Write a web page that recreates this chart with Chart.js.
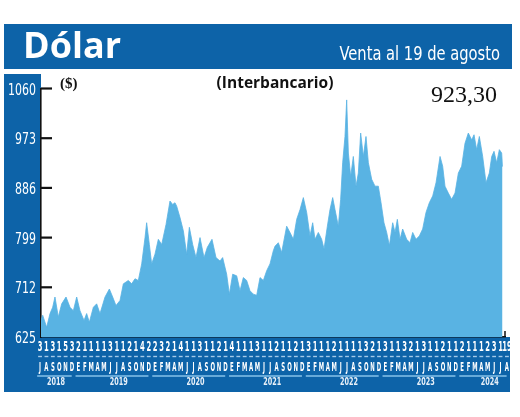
<!DOCTYPE html>
<html lang="es">
<head>
<meta charset="utf-8">
<title>Dólar</title>
<script src="https://cdn.jsdelivr.net/npm/chart.js@4.4.1/dist/chart.umd.min.js"></script>
<style>
  html, body { margin: 0; padding: 0; background: #fff; }
  #grafico { display: block; }
</style>
</head>
<body>
<canvas id="grafico" width="520" height="417"></canvas>
<script>
// Dólar interbancario, venta
// posición en meses contados desde el 1 de julio de 2018
const meses = [
    0.0, 0.27, 0.9, 1.44, 1.86, 2.23, 2.76, 3.3, 3.99, 4.63,
    5.16, 5.69, 6.22, 6.86, 7.28, 7.71, 8.35, 8.88, 9.41, 10.21,
    10.9, 11.43, 11.96, 12.6, 13.13, 13.93, 14.46, 14.99, 15.52, 16.06,
    16.59, 16.85, 17.28, 17.65, 18.18, 18.71, 19.25, 19.94, 20.57, 21.0,
    21.37, 21.64, 22.17, 22.7, 23.23, 23.66, 24.19, 24.72, 25.36, 26.0,
    26.53, 27.27, 27.91, 28.55, 28.97, 29.61, 30.04, 30.57, 31.21, 31.74,
    32.27, 32.8, 33.33, 33.86, 34.4, 34.93, 35.46, 35.99, 36.52, 37.05,
    37.32, 37.85, 38.38, 39.18, 39.71, 40.24, 40.78, 41.31, 41.84, 42.37,
    42.9, 43.33, 43.7, 44.23, 44.76, 45.14, 45.67, 46.09, 46.52, 46.89,
    47.42, 47.79, 48.11, 48.48, 48.75, 49.02, 49.39, 49.81, 50.24, 50.61,
    50.98, 51.41, 51.83, 52.21, 52.74, 53.27, 53.8, 54.23, 54.7, 55.13,
    55.56, 56.09, 56.46, 56.83, 57.26, 57.68, 58.32, 58.85, 59.28, 59.81,
    60.34, 60.87, 61.4, 61.93, 62.47, 63.0, 63.64, 64.06, 64.43, 64.96,
    65.49, 66.03, 66.56, 67.09, 67.62, 68.15, 68.69, 69.06, 69.48, 69.91,
    70.44, 70.97, 71.5, 71.88, 72.25, 72.67, 73.1, 73.47, 73.6
];
const ventas = [
    654, 663, 642, 666, 677, 695, 660, 683, 695, 677,
    671, 695, 671, 654, 666, 651, 677, 683, 666, 695,
    709, 695, 680, 689, 718, 724, 718, 727, 724, 753,
    799, 825, 787, 753, 770, 796, 787, 822, 863, 857,
    860, 854, 834, 811, 770, 817, 787, 764, 799, 764,
    782, 796, 764, 758, 764, 735, 700, 735, 732, 706,
    729, 724, 706, 700, 698, 729, 724, 741, 753, 776,
    784, 790, 773, 819, 808, 796, 831, 848, 869, 843,
    802, 825, 796, 808, 796, 779, 819, 848, 869, 848,
    819, 866, 930, 976, 1040, 947, 906, 941, 889, 912,
    982, 941, 976, 930, 901, 889, 889, 860, 825, 808,
    785, 825, 808, 831, 796, 814, 796, 790, 808, 796,
    802, 814, 843, 860, 872, 895, 941, 924, 889, 877,
    866, 877, 912, 924, 964, 982, 970, 979, 953, 976,
    941, 895, 912, 941, 950, 930, 953, 947, 923.3
];

const yTicks = [625, 712, 799, 886, 973, 1060];

// fila de cifras bajo el eje, una por mes
const dias = [
    '3', '1', '3', '1', '5', '3',
    '2', '1', '1', '1', '1', '3', '1', '1', '2', '1', '4', '2',
    '2', '3', '2', '1', '4', '1', '1', '3', '1', '1', '2', '1',
    '4', '1', '1', '1', '3', '1', '1', '2', '1', '1', '2', '1',
    '3', '1', '1', '1', '2', '1', '1', '1', '1', '3', '2', '1',
    '3', '1', '1', '3', '2', '1', '3', '1', '1', '2', '1', '1',
    '2', '1', '1', '1', '2', '3', '1', '19'
];
const letras = ['E', 'F', 'M', 'A', 'M', 'J', 'J', 'A', 'S', 'O', 'N', 'D'];
const anios = ['2018', '2019', '2020', '2021', '2022', '2023', '2024'];
const mesesPorAnio = [6, 12, 12, 12, 12, 12, 8];
const mesInicial = 6; // julio de 2018

const titulo = 'Dólar';
const subtitulo = 'Venta al 19 de agosto';
const unidad = '($)';
const tipo = '(Interbancario)';
const ultimoValor = '923,30';

const azul = '#0d63a8';
const celeste = '#59b3e3';
const condensada = "'DejaVu Sans Condensed', 'DejaVu Sans', sans-serif";

// letras de mes y primer mes de cada año en la fila de etiquetas
const letrasMes = [];
const anioInicio = [];
anios.forEach((a, k) => {
    anioInicio.push(letrasMes.length);
    const desde = k === 0 ? mesInicial : 0;
    for (let j = 0; j < mesesPorAnio[k]; j++) letrasMes.push(letras[desde + j]);
});
// el rótulo del año va algo a la derecha del centro, salvo el primero
const anioCentro = anios.map((a, k) =>
    anioInicio[k] + (mesesPorAnio[k] - 1) / 2 + (k === 0 ? 0 : 0.8));

// escala de etiquetas (algo desplazada respecto a los datos, como en el original)
const etiquetaMin = 0.15;
const etiquetaMax = 72.7;

// texto estrechado en horizontal, la tipografía original es muy condensada
function texto(ctx, str, x, y, escala, align) {
    ctx.save();
    ctx.translate(x, y);
    ctx.scale(escala, 1);
    ctx.textAlign = align;
    ctx.fillText(str, 0, 0);
    ctx.restore();
}

const fondo = {
    id: 'fondo',
    beforeDraw(chart) {
        const { ctx, chartArea } = chart;
        ctx.save();
        ctx.fillStyle = '#fff';
        ctx.fillRect(0, 0, chart.width, chart.height);
        ctx.fillStyle = azul;
        ctx.fillRect(4, 24, 508, 45);
        ctx.fillRect(4, 74, chartArea.left - 4, chartArea.bottom - 74);
        ctx.fillRect(4, chartArea.bottom, 506, 392 - chartArea.bottom);
        ctx.restore();
    }
};

const adornos = {
    id: 'adornos',
    afterDraw(chart) {
        const { ctx, chartArea, scales } = chart;
        ctx.save();
        ctx.textBaseline = 'alphabetic';

        // marcas del eje y hacia dentro, y sus cifras
        ctx.strokeStyle = '#111';
        ctx.lineWidth = 2.2;
        ctx.fillStyle = '#fff';
        ctx.font = '16.5px ' + condensada;
        scales.y.ticks.forEach(t => {
            const y = scales.y.getPixelForValue(t.value);
            if (t.value > scales.y.min) {
                ctx.beginPath();
                ctx.moveTo(chartArea.left, y);
                ctx.lineTo(chartArea.left + 11, y);
                ctx.stroke();
            }
            texto(ctx, String(t.value), chartArea.left - 5, y + 6, 0.74, 'right');
        });
        ctx.lineWidth = 1.5;
        ctx.beginPath();
        ctx.moveTo(chartArea.right, chartArea.bottom - 6);
        ctx.lineTo(chartArea.right, chartArea.bottom);
        ctx.stroke();

        // cifras de cada mes
        const xd = scales.xDia;
        ctx.fillStyle = '#fff';
        ctx.font = 'bold 14px ' + condensada;
        xd.ticks.forEach((t, i) => {
            texto(ctx, dias[i], xd.getPixelForValue(t.value), xd.top + 13.8, 0.54, 'center');
        });

        // guiones entre cifras y meses
        const xm = scales.xMes;
        ctx.strokeStyle = 'rgba(190, 220, 245, 0.85)';
        ctx.lineWidth = 1.4;
        xm.ticks.forEach(t => {
            ctx.beginPath();
            ctx.moveTo(xm.getPixelForValue(t.value - 0.3), xm.top + 4.5);
            ctx.lineTo(xm.getPixelForValue(t.value + 0.3), xm.top + 4.5);
            ctx.stroke();
        });
        ctx.font = 'bold 11.5px ' + condensada;
        xm.ticks.forEach((t, i) => {
            texto(ctx, letrasMes[i], xm.getPixelForValue(t.value), xm.top + 18.5, 0.52, 'center');
        });

        // subrayado y rótulo de cada año
        const xa = scales.xAnio;
        ctx.strokeStyle = '#86c2ea';
        ctx.lineWidth = 1.3;
        anios.forEach((_, k) => {
            const a = anioInicio[k];
            const b = a + mesesPorAnio[k] - 1;
            ctx.beginPath();
            ctx.moveTo(xa.getPixelForValue(a - 0.45), xa.top + 6);
            ctx.lineTo(xa.getPixelForValue(b - 0.05), xa.top + 6);
            ctx.stroke();
        });
        ctx.fillStyle = '#e8f0f8';
        ctx.font = 'bold 10px ' + condensada;
        xa.ticks.forEach((t, k) => {
            texto(ctx, anios[k], xa.getPixelForValue(t.value), xa.top + 15.3, 0.72, 'center');
        });

        // títulos
        ctx.fillStyle = '#fff';
        ctx.textAlign = 'left';
        ctx.font = "bold 36px 'Open Sans', sans-serif";
        ctx.fillText(titulo, 23, 58);
        ctx.font = '19px ' + condensada;
        texto(ctx, subtitulo, 500, 60, 0.86, 'right');

        ctx.fillStyle = '#111';
        ctx.textAlign = 'left';
        ctx.font = "bold 15px 'Liberation Serif', serif";
        ctx.fillText(unidad, 60, 88);
        ctx.textAlign = 'center';
        ctx.font = "bold 15.5px 'Open Sans', sans-serif";
        ctx.fillText(tipo, 275, 88);
        ctx.textAlign = 'right';
        ctx.font = "24px 'Liberation Serif', serif";
        ctx.fillText(ultimoValor, 497, 102);

        ctx.restore();
    }
};

// ejes inferiores que sólo reservan sitio y dan la posición de cada rótulo
const ejeEtiquetas = (peso, valores, alto) => ({
    type: 'linear',
    axis: 'x',
    position: 'bottom',
    weight: peso,
    min: etiquetaMin,
    max: etiquetaMax,
    afterBuildTicks: s => { s.ticks = valores.map(v => ({ value: v })); },
    afterFit: s => { s.height = alto; },
    ticks: { display: false, autoSkip: false },
    grid: { display: false, drawTicks: false },
    border: { display: false }
});

new Chart(document.getElementById('grafico'), {
    type: 'line',
    data: {
        datasets: [{
            data: meses.map((m, i) => ({ x: m, y: ventas[i] })),
            xAxisID: 'x',
            yAxisID: 'y',
            fill: 'start',
            backgroundColor: celeste,
            borderColor: celeste,
            borderWidth: 0.8,
            pointRadius: 0,
            tension: 0
        }]
    },
    options: {
        responsive: false,
        animation: false,
        events: [],
        layout: { padding: { left: 4, right: 15, top: 88.5, bottom: 25 } },
        plugins: {
            legend: { display: false },
            tooltip: { enabled: false }
        },
        scales: {
            x: {
                type: 'linear',
                position: 'bottom',
                weight: 0,
                z: 1,
                min: 0,
                max: 74,
                afterFit: s => { s.height = 0; },
                ticks: { display: false },
                grid: { display: false, drawTicks: false },
                border: { display: true, color: '#111', width: 1.6 }
            },
            xDia: ejeEtiquetas(1, dias.map((d, i) => i), 15),
            xMes: ejeEtiquetas(2, letrasMes.map((l, i) => i), 18),
            xAnio: ejeEtiquetas(3, anioCentro, 22),
            y: {
                type: 'linear',
                position: 'left',
                z: 1,
                min: 625,
                max: 1060,
                afterBuildTicks: s => { s.ticks = yTicks.map(v => ({ value: v })); },
                afterFit: s => { s.width = 37; },
                ticks: { display: false },
                grid: { display: false, drawTicks: false },
                border: { display: true, color: '#111', width: 1.6 }
            }
        }
    },
    plugins: [fondo, adornos]
});
</script>
</body>
</html>
